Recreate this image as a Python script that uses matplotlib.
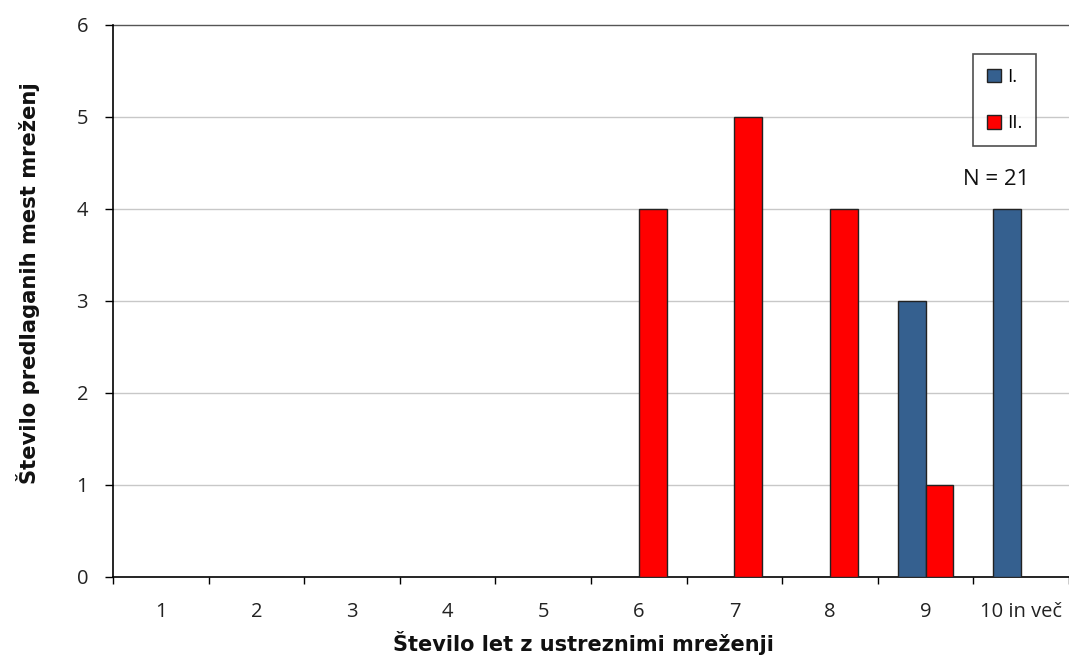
import numpy as np
import matplotlib
matplotlib.use('Agg')
import matplotlib.pyplot as plt

# data
categories = ['1', '2', '3', '4', '5', '6', '7', '8', '9', '10 in več']
series_I = [0, 0, 0, 0, 0, 0, 0, 0, 3, 4]
series_II = [0, 0, 0, 0, 0, 4, 5, 4, 1, 0]
y_ticks = [0, 1, 2, 3, 4, 5, 6]

blue = '#35608F'
red = '#FF0000'

fig = plt.figure(figsize=(10.69, 6.59), dpi=100)
ax = fig.add_axes([113/1069, 1-577/659, 1-113/1069, (577-25)/659])

x = np.arange(len(categories))
w = 0.29
ax.bar(x - w, series_I, width=w, align='edge', color=blue,
       edgecolor='#222222', linewidth=1, label='I.', zorder=3)
ax.bar(x, series_II, width=w, align='edge', color=red,
       edgecolor='#222222', linewidth=1, label='II.', zorder=3)

ax.set_xlim(-0.5, len(categories) - 0.5)
ax.set_ylim(0, 6)
ax.set_yticks(y_ticks)
for v in y_ticks[1:-1]:
    ax.axhline(v, color='#C8C8C8', linewidth=1, zorder=1)
ax.axhline(6, color='#555555', linewidth=1, zorder=1, clip_on=False)

# category labels between tick marks
ax.set_xticks(np.arange(len(categories) + 1) - 0.5)
ax.set_xticklabels([])
ax.set_xticks(x, minor=True)
ax.set_xticklabels(categories, minor=True, fontsize=14.5, family='Open Sans', color='#222222')
ax.tick_params(axis='x', which='minor', length=0, pad=18)
ax.tick_params(axis='x', which='major', length=5, direction='out', width=1)
ax.tick_params(axis='y', length=6, direction='out', width=1, pad=12)
for t in ax.get_yticklabels():
    t.set_fontsize(14.5)
    t.set_family('Open Sans')
    t.set_color('#222222')

for s in ['top', 'right']:
    ax.spines[s].set_visible(False)
ax.spines['left'].set_linewidth(1.2)
ax.spines['bottom'].set_linewidth(1.2)

fig.text(583/1069, 1-643/659, 'Število let z ustreznimi mreženji', ha='center', va='center',
         fontsize=15, fontweight='bold', color='#111111')
fig.text(28/1069, 1-283/659, 'Število predlaganih mest mreženj', ha='center', va='center',
         rotation=90, fontsize=15.2, fontweight='bold', color='#111111')

leg = ax.legend(loc='upper left', bbox_to_anchor=(973/1069, 1-54/659),
                bbox_transform=fig.transFigure, frameon=True, fancybox=False,
                edgecolor='#222222', handlelength=0.75, handleheight=0.75,
                handletextpad=0.3, labelspacing=1.5, borderpad=0.75, borderaxespad=0,
                prop={'family': 'Open Sans', 'size': 13.5})
leg.get_frame().set_linewidth(1.2)

fig.text(996/1069, 1-180/659, 'N = 21', ha='center', va='center',
         fontsize=16, family='Open Sans', color='#111111')

fig.savefig('out.png', dpi=100)
